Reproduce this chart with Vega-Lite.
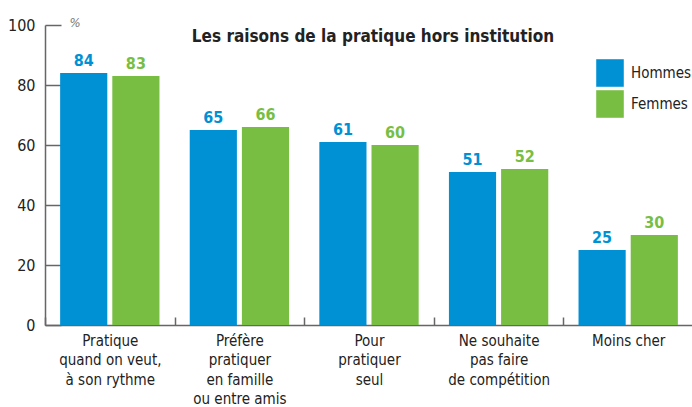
{
  "$schema": "https://vega.github.io/schema/vega-lite/v6.json",
  "width": 648,
  "height": 300,
  "autosize": {"type": "none"},
  "padding": {"left": 45, "top": 25, "right": 0, "bottom": 82},
  "background": "white",
  "config": {
    "view": {"stroke": null},
    "font": "Liberation Sans Narrow, DejaVu Sans Condensed, sans-serif"
  },
  "title": {
    "text": "Les raisons de la pratique hors institution",
    "fontSize": 17,
    "fontWeight": "bold",
    "color": "#222222",
    "anchor": "middle",
    "frame": "group",
    "orient": "none",
    "dx": 328,
    "dy": 12,
    "align": "center",
    "baseline": "middle",
    "font": "Liberation Sans Narrow, DejaVu Sans Condensed, sans-serif"
  },
  "data": {
    "values": [
      {"raison": "Pratique|quand on veut,|à son rythme", "sexe": "Hommes", "valeur": 84},
      {"raison": "Pratique|quand on veut,|à son rythme", "sexe": "Femmes", "valeur": 83},
      {"raison": "Préfère|pratiquer|en famille|ou entre amis", "sexe": "Hommes", "valeur": 65},
      {"raison": "Préfère|pratiquer|en famille|ou entre amis", "sexe": "Femmes", "valeur": 66},
      {"raison": "Pour|pratiquer|seul", "sexe": "Hommes", "valeur": 61},
      {"raison": "Pour|pratiquer|seul", "sexe": "Femmes", "valeur": 60},
      {"raison": "Ne souhaite|pas faire|de compétition", "sexe": "Hommes", "valeur": 51},
      {"raison": "Ne souhaite|pas faire|de compétition", "sexe": "Femmes", "valeur": 52},
      {"raison": "Moins cher", "sexe": "Hommes", "valeur": 25},
      {"raison": "Moins cher", "sexe": "Femmes", "valeur": 30}
    ]
  },
  "encoding": {
    "x": {
      "field": "raison",
      "type": "nominal",
      "sort": null,
      "scale": {"paddingInner": 0, "paddingOuter": 0},
      "axis": {
        "title": null,
        "labelAngle": 0,
        "labelExpr": "split(datum.label, '|')",
        "labelFontSize": 15,
        "labelColor": "#222222",
        "labelLineHeight": 19.5,
        "labelPadding": 16,
        "labelBaseline": "top",
        "tickBand": "extent",
        "tickSize": -8,
        "tickColor": "#666666",
        "tickWidth": 1.5,
        "domainColor": "#666666",
        "domainWidth": 1.5,
        "grid": false
      }
    },
    "xOffset": {
      "field": "sexe",
      "type": "nominal",
      "sort": ["Hommes", "Femmes"],
      "scale": {"paddingInner": 0.096, "paddingOuter": 0.29}
    },
    "y": {
      "field": "valeur",
      "type": "quantitative",
      "scale": {"domain": [0, 100]},
      "axis": {
        "values": [0, 20, 40, 60, 80, 100],
        "title": "%",
        "titleAngle": 0,
        "titleX": 24,
        "titleY": -3,
        "titleBaseline": "middle",
        "titleFontSize": 13,
        "titleFontStyle": "italic",
        "titleFontWeight": "normal",
        "titleColor": "#777777",
        "titleAlign": "left",
        "labelFontSize": 16,
        "labelColor": "#222222",
        "labelPadding": 26,
        "tickSize": -16,
        "tickColor": "#666666",
        "tickWidth": 1.5,
        "domainColor": "#666666",
        "domainWidth": 1.5,
        "grid": false
      }
    },
    "color": {
      "field": "sexe",
      "type": "nominal",
      "sort": ["Hommes", "Femmes"],
      "scale": {"domain": ["Hommes", "Femmes"], "range": ["#0091d5", "#77be43"]},
      "legend": {
        "title": null,
        "orient": "none",
        "legendX": 551,
        "legendY": 34,
        "symbolType": "square",
        "symbolSize": 760,
        "symbolStrokeWidth": 0,
        "labelFontSize": 15,
        "labelColor": "#222222",
        "rowPadding": 3,
        "labelOffset": 7,
        "padding": 0
      }
    }
  },
  "layer": [
    {"mark": {"type": "bar"}},
    {
      "mark": {"type": "text", "baseline": "bottom", "dy": -4, "fontSize": 16, "fontWeight": "bold"},
      "encoding": {"text": {"field": "valeur", "type": "quantitative"}}
    }
  ]
}
